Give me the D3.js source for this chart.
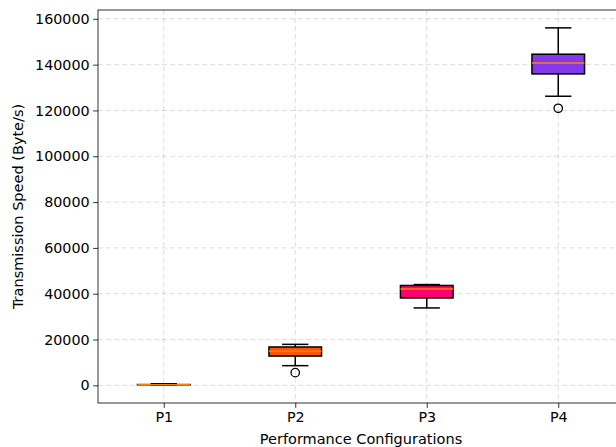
<!DOCTYPE html>
<html>
<head>
<meta charset="utf-8">
<script src="https://cdn.jsdelivr.net/npm/d3@7"></script>
<style>
  html, body { margin: 0; padding: 0; background: #fff; }
  svg { display: block; }
  text { font-family: "DejaVu Sans", sans-serif; }
</style>
</head>
<body>
<svg id="chart" width="616" height="447"></svg>
<script>
// ---- Data ----
const categories = ["P1", "P2", "P3", "P4"];
const whiskerLow  = [100,    8600,   33800,  126200];
const q1Values    = [250,    12800,  38150,  135950];
const medians     = [300,    14850,  42100,  140750];
const q3Values    = [350,    16750,  43600,  144550];
const whiskerHigh = [700,    17900,  44000,  156050];
const outliers    = [[], [5550], [], [120950]];
const boxColors   = ["#FFBE0B", "#FB5607", "#FF006E", "#8338EC"];
const yTicks      = [0, 20000, 40000, 60000, 80000, 100000, 120000, 140000, 160000];
const xLabel = "Performance Configurations";
const yLabel = "Transmission Speed (Byte/s)";

const boxes = categories.map((c, i) => ({
  cat: c, i: i + 1,
  lo: whiskerLow[i], q1: q1Values[i], med: medians[i], q3: q3Values[i], hi: whiskerHigh[i],
  fliers: outliers[i], color: boxColors[i]
}));

// ---- Layout ----
const pL = 98, pR = 624, pT = 10, pB = 403;
const fontPx = "14.3px";
const svg = d3.select("#chart");

const allVals = boxes.flatMap(b => [b.lo, b.hi, ...b.fliers]);
const dMin = d3.min(allVals), dMax = d3.max(allVals);
const pad = (dMax - dMin) * 0.05;
const y = d3.scaleLinear().domain([dMin - pad, dMax + pad]).range([pB, pT]);
const x = d3.scaleLinear().domain([0.5, categories.length + 0.5]).range([pL, pR]);
const boxW = x(0.4) - x(0);
const capW = boxW / 2;

// ---- Grid ----
const grid = svg.append("g").attr("stroke", "#b0b0b0").attr("stroke-opacity", 0.55)
  .attr("stroke-width", 0.8).attr("stroke-dasharray", "5,3");
yTicks.forEach(t => {
  grid.append("line").attr("x1", pL).attr("x2", pR)
    .attr("y1", y(t)).attr("y2", y(t));
});
boxes.forEach(b => {
  grid.append("line").attr("x1", x(b.i)).attr("x2", x(b.i))
    .attr("y1", pT).attr("y2", pB);
});

// ---- Boxes ----
const g = svg.append("g");
boxes.forEach(b => {
  const cx = x(b.i);
  g.append("line").attr("x1", cx).attr("x2", cx).attr("y1", y(b.q1)).attr("y2", y(b.lo))
    .attr("stroke", "#000").attr("stroke-width", 1.5);
  g.append("line").attr("x1", cx).attr("x2", cx).attr("y1", y(b.q3)).attr("y2", y(b.hi))
    .attr("stroke", "#000").attr("stroke-width", 1.5);
  [b.lo, b.hi].forEach(v => {
    g.append("line").attr("x1", cx - capW / 2).attr("x2", cx + capW / 2)
      .attr("y1", y(v)).attr("y2", y(v)).attr("stroke", "#000").attr("stroke-width", 1.5);
  });
  g.append("rect").attr("x", cx - boxW / 2).attr("width", boxW)
    .attr("y", y(b.q3)).attr("height", Math.max(0, y(b.q1) - y(b.q3)))
    .attr("fill", b.color).attr("stroke", "#000").attr("stroke-width", 1.5);
  g.append("line").attr("x1", cx - boxW / 2).attr("x2", cx + boxW / 2)
    .attr("y1", y(b.med)).attr("y2", y(b.med)).attr("stroke", "#ff7f0e").attr("stroke-width", 1.5);
  b.fliers.forEach(v => {
    g.append("circle").attr("cx", cx).attr("cy", y(v)).attr("r", 4.2)
      .attr("fill", "none").attr("stroke", "#000").attr("stroke-width", 1.3);
  });
});

// ---- Axes ----
const tickLen = 4.86;
const yAxis = d3.axisLeft(y).tickValues(yTicks).tickFormat(d3.format("d"))
  .tickSize(tickLen).tickPadding(3.5);
const yg = svg.append("g").attr("transform", `translate(${pL},0)`).call(yAxis);
const xAxis = d3.axisBottom(x).tickValues(boxes.map(b => b.i))
  .tickFormat(d => categories[d - 1]).tickSize(tickLen).tickPadding(3.5);
const xg = svg.append("g").attr("transform", `translate(0,${pB})`).call(xAxis);
[yg, xg].forEach(a => {
  a.select(".domain").remove();
  a.selectAll(".tick line").attr("stroke", "#000").attr("stroke-width", 0.8);
  a.selectAll(".tick text").attr("fill", "#000").style("font-size", fontPx)
    .style("font-family", "'DejaVu Sans', sans-serif");
});

// spines
const sp = svg.append("g").attr("stroke", "#000").attr("stroke-width", 0.8).attr("fill", "none");
sp.append("rect").attr("x", pL).attr("y", pT).attr("width", pR - pL).attr("height", pB - pT);

// labels
svg.append("text").attr("x", (pL + pR) / 2).attr("y", 443.5)
  .attr("text-anchor", "middle").style("font-size", "14.5px").text(xLabel);
svg.append("text").attr("transform", `translate(23,${(pT + pB) / 2}) rotate(-90)`)
  .attr("text-anchor", "middle").style("font-size", "14.5px").text(yLabel);
</script>
</body>
</html>
